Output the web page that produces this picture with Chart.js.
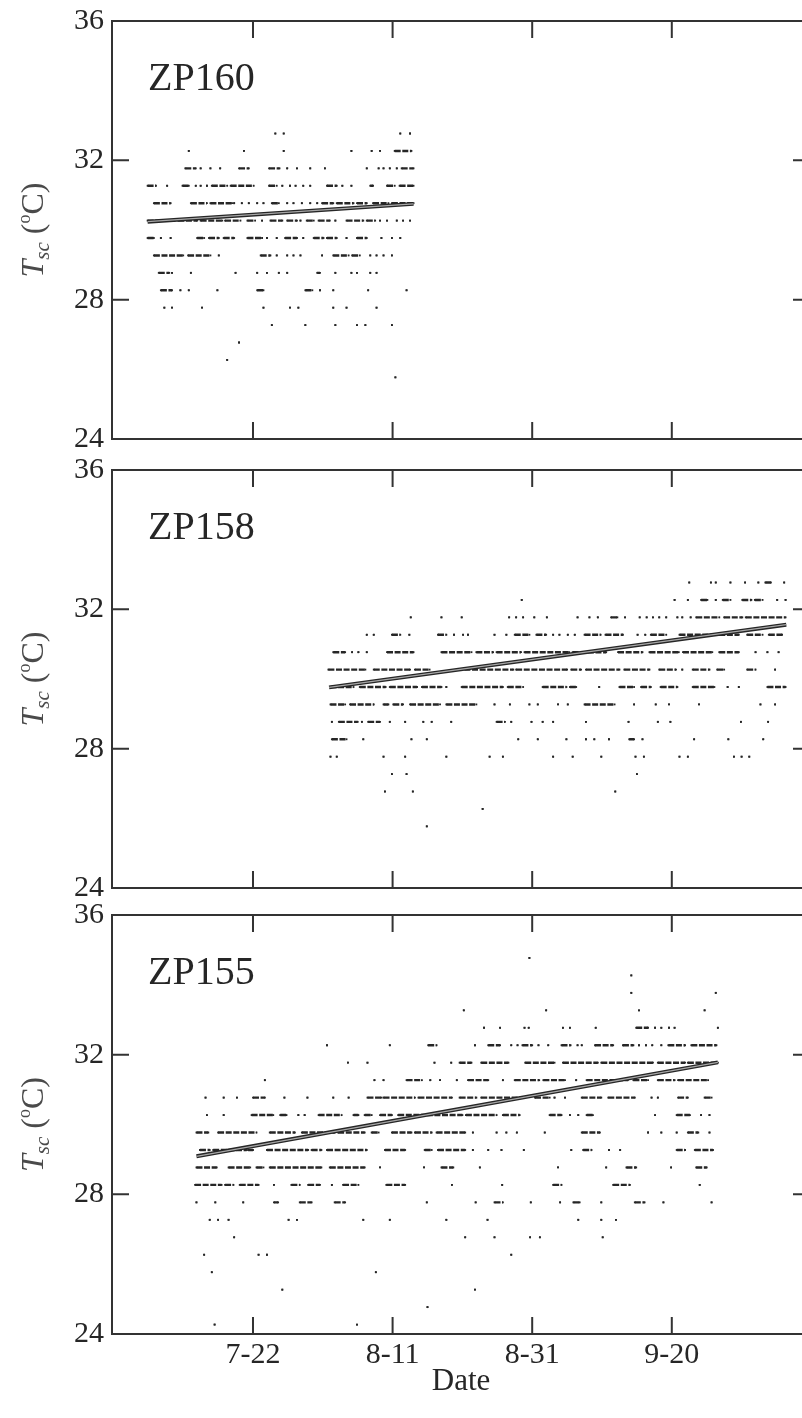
<!DOCTYPE html>
<html>
<head>
<meta charset="utf-8">
<script src="https://cdn.jsdelivr.net/npm/chart.js@4.4.1/dist/chart.umd.min.js"></script>
<style>
  html, body { margin: 0; background: #fff; }
  #wrap { position: relative; width: 802px; height: 1418px; overflow: hidden; }
  canvas { position: absolute; left: 0; }
</style>
</head>
<body>
<div id="wrap">
  <canvas id="c160" width="830" height="470" style="top:-5px"></canvas>
  <canvas id="c158" width="830" height="470" style="top:444px"></canvas>
  <canvas id="c155" width="830" height="514" style="top:889px"></canvas>
</div>
<script>
// x values are days after 1 July
const tickDays = [21, 41, 61, 81];
const tickLabels = ['7-22', '8-11', '8-31', '9-20'];
const yTicks = [24, 28, 32, 36];

// each row: logged temperature level, then readings (single day, or [from, to] run of consecutive readings)
const zp160Rows = [
  [32.77, 24.2, 25.4, 42.1, 43.5],
  [32.27, 11.8, 19.7, 25.4, 35.1, 38.0, 39.2, [41.3, 43.7]],
  [31.77, [11.3, 12.8], 13.5, 14.9, 16.3, [19.0, 20.4], [23.3, 24.8], 25.9, 27.3, 29.2, 31.3, 37.3, 39.0, 39.7, 40.6, 41.6, [42.3, 44.0]],
  [31.27, [5.9, 7.1], 8.7, [10.9, 11.8], 12.8, 13.5, 14.4, [15.1, 17.3], [17.8, 21.1], [23.3, 24.4], 25.2, 26.3, 27.1, 28.2, 29.2, [31.6, 33.0], 33.8, 35.1, [37.8, 38.2], [40.2, 41.3], [42.0, 44.0]],
  [30.77, [6.8, 9.2], [12.1, 14.4], [14.9, 18.0], 18.3, 19.4, 20.4, 21.6, 22.5, [23.7, 24.7], 25.9, 26.8, 28.0, 29.2, 30.2, [30.9, 32.5], [33.0, 35.4], [35.9, 37.3], [38.2, 40.4], [40.9, 44.0]],
  [30.27, [5.9, 9.8], [10.3, 13.0], [13.5, 16.6], [17.0, 19.2], [20.2, 21.3], 22.3, [23.5, 25.2], [25.9, 27.3], 27.8, [28.7, 29.7], [30.4, 32.0], 32.8, [34.4, 36.8], [37.3, 38.5], 39.2, 40.2, 41.6, 42.5, 43.5],
  [29.77, [5.9, 6.8], 7.8, 9.2, [13.0, 14.0], [14.7, 16.1], [16.8, 18.3], [20.2, 22.3], 23.0, 24.4, [25.6, 27.3], 28.2, [29.7, 31.1], [31.6, 33.0], 34.4, [35.9, 37.3], 39.4, 40.9, 42.1],
  [29.27, [6.8, 11.0], [11.7, 14.9], 16.1, [22.1, 23.5], 24.4, 25.9, 26.8, 27.8, 30.9, [32.5, 34.7], [35.2, 36.3], 37.8, 38.7, 39.7, 40.9],
  [28.77, [7.5, 9.0], 9.4, 12.1, 18.5, 21.6, 23.0, 24.7, 25.9, [30.2, 30.6], 32.8, 35.1, 35.9, 37.8, 38.7],
  [28.27, [7.8, 9.4], 10.6, 11.8, 15.9, [21.6, 22.5], [28.5, 29.5], 30.6, 32.5, 37.5, 43.0],
  [27.77, 8.3, 9.4, 13.7, 22.5, 26.3, 27.5, 32.5, 34.4, 38.7],
  [27.27, 23.7, 28.5, 32.8, 35.9, 37.1, 40.9],
  [26.77, 19.0],
  [26.27, 17.3],
  [25.77, 41.4]
];

const zp158Rows = [
  [32.77, 83.5, 86.6, 87.3, 89.4, 91.5, 93.4, [94.4, 95.2], 97.1],
  [32.27, 59.5, 81.4, 83.3, [85.2, 86.1], 87.3, [88.3, 89.4], [91.1, 92.4], [92.9, 94.0], 96.1, 97.3],
  [31.77, 43.6, 48.0, 50.9, 57.7, 58.7, 59.7, 61.3, 63.1, 67.5, 69.2, 70.4, [72.3, 73.2], 74.3, 76.4, 77.4, 78.3, 79.2, 80.2, 81.8, 82.5, 83.7, [84.5, 87.8], [88.5, 91.1], [91.6, 97.3]],
  [31.27, 37.3, 38.3, [40.9, 42.1], 43.4, [47.5, 48.7], 49.8, 51.1, 51.8, 55.6, 57.3, [58.5, 60.6], [61.6, 63.0], 64.0, 64.9, 66.1, 67.1, [68.5, 70.8], [71.5, 74.0], 76.1, 77.2, [78.0, 80.2], [82.1, 86.8], [87.8, 90.6], [91.8, 94.0], [94.9, 96.8]],
  [30.77, [32.5, 34.2], 35.2, 36.1, 37.3, [40.2, 44.0], [48.0, 52.3], [53.0, 55.4], [55.9, 59.4], [59.9, 66.3], [66.8, 71.6], [73.3, 76.8], [77.8, 82.0], [82.6, 86.8], [87.8, 90.6], 93.0, 94.7, 96.3],
  [30.27, [31.8, 37.1], [38.3, 43.5], [44.2, 46.3], [50.2, 58.3], [58.7, 66.0], [66.6, 68.0], [68.7, 73.5], [74.2, 77.8], [79.2, 81.6], 82.5, [84.0, 86.4], [87.5, 88.5], [91.8, 93.0], 95.8],
  [29.77, [32.1, 35.4], [36.3, 40.0], [40.6, 44.5], [45.2, 48.0], 48.7, [50.9, 56.8], [57.5, 59.7], [62.5, 65.9], [66.4, 67.3], 70.6, [73.5, 75.6], [76.6, 78.0], [79.4, 81.8], [84.0, 87.1], 89.0, 90.6, [94.7, 97.3]],
  [29.27, [32.1, 34.2], [34.9, 38.3], [39.7, 40.4], [41.1, 42.5], [43.5, 47.8], [48.7, 53.0], 55.6, 57.8, 60.6, 61.8, 64.7, 66.1, [68.5, 72.8], 75.6, 78.7, 80.6, 84.9, 93.7, 95.8],
  [28.77, 32.3, [33.3, 36.0], 36.6, [37.5, 39.2], 40.6, 42.8, 45.4, 46.6, 49.4, [55.9, 57.1], 58.0, 60.9, 62.5, 64.0, 68.7, 74.8, 79.0, 80.8, 90.9, 94.8],
  [28.27, [32.3, 34.4], 36.8, 43.7, 45.9, 59.0, 61.8, 65.9, 68.7, 69.9, 72.0, [74.9, 75.6], 76.8, 84.2, 89.1, 94.1],
  [27.77, 32.1, 33.0, 39.7, 42.8, 48.7, 54.9, 56.8, 64.0, 66.8, 70.9, 75.8, 77.0, 82.1, 83.3, 89.9, 91.0, 92.1],
  [27.27, 40.9, 43.0, 76.0],
  [26.77, 39.9, 43.9, 72.9],
  [26.27, 53.9],
  [25.77, 45.9]
];

const zp155Rows = [
  [34.77, 60.6],
  [34.27, 75.2],
  [33.77, 75.2, 87.3],
  [33.27, 51.2, 63.0, 76.3, 85.7],
  [32.77, 54.1, 56.4, 59.9, 60.5, 65.4, 66.4, 70.1, [75.9, 77.6], 78.6, 79.5, 80.6, 81.4, 87.6],
  [32.27, 31.6, 40.6, [46.1, 47.3], 52.8, [54.7, 56.4], 58.0, 58.9, [59.6, 61.0], 61.9, 63.3, [65.2, 66.5], 67.5, 68.1, [70.0, 72.6], [74.0, 75.5], 76.3, 77.3, 78.2, 79.5, [80.5, 82.9], [83.8, 87.4]],
  [31.77, 34.6, 37.4, 47.0, 49.4, [50.6, 52.3], [53.7, 57.6], [60.0, 64.2], [65.4, 70.4], [70.9, 78.3], [79.0, 82.9], [83.3, 87.6]],
  [31.27, 22.7, 38.4, 39.7, [43.0, 45.2], 46.4, 47.8, 50.2, [51.8, 54.7], 56.8, [58.5, 62.0], [62.6, 65.7], 67.3, [68.8, 74.7], [75.5, 77.6], [79.0, 81.4], [81.9, 86.2]],
  [30.77, 14.2, 16.8, 18.7, [21.0, 22.7], 25.5, 28.8, 32.5, 34.7, [37.4, 39.4], [39.7, 44.2], [44.7, 49.5], [50.6, 53.0], [53.7, 59.5], [61.4, 63.5], 64.2, 65.7, [68.1, 70.9], [71.9, 75.7], 78.1, 79.0, [81.9, 83.3], [85.7, 86.7]],
  [30.27, 14.4, 16.8, [20.8, 23.9], [24.9, 25.8], 27.5, 28.4, [30.4, 33.7], [35.4, 36.1], [37.0, 38.0], [39.2, 40.9], [41.8, 45.6], [45.9, 51.0], [51.5, 55.9], [56.8, 59.2], [63.5, 65.2], 66.4, 67.6, [68.8, 69.7], 78.6, [81.7, 83.6], 85.2, 86.4],
  [29.77, [12.9, 14.6], [16.0, 21.5], [23.4, 27.0], [28.0, 32.7], [33.2, 37.0], [38.0, 39.0], [40.9, 43.7], [44.2, 46.6], [47.3, 51.4], 52.5, 55.9, 57.3, 58.8, 62.8, [68.1, 70.7], 77.6, 79.5, 81.7, [83.3, 84.8], 86.4],
  [29.27, [13.4, 14.8], [15.3, 20.1], [20.3, 21.0], [23.0, 28.9], [29.4, 30.8], [31.6, 37.3], [39.9, 42.8], [45.6, 46.6], [47.5, 51.4], 52.5, 54.7, 56.6, 59.8, 66.6, [68.3, 69.5], 72.0, 73.6, [81.7, 82.9], [84.3, 86.9]],
  [28.77, [12.9, 15.8], [17.5, 20.6], [21.5, 22.5], [23.4, 30.8], [32.0, 37.0], 39.2, 45.5, [48.0, 49.7], 53.5, 64.7, 71.6, [74.5, 75.9], 80.9, [84.5, 86.0]],
  [28.27, [12.7, 16.5], [17.0, 18.2], [19.1, 21.8], 24.0, [26.5, 27.7], [28.9, 30.6], 32.3, [33.9, 36.1], [40.1, 42.8], 49.5, 56.7, [64.0, 65.2], [72.6, 75.0], 85.0],
  [27.77, 12.9, 15.6, 19.6, [24.0, 24.6], [27.7, 29.4], [32.7, 34.2], 45.9, 52.9, [55.6, 56.8], 60.8, 65.0, [66.9, 67.8], 70.9, [75.7, 77.1], 79.8, 86.7],
  [27.27, 14.8, 16.0, 17.5, 26.1, 27.3, 36.8, 40.6, 48.7, 54.6, 67.6, 70.9, 73.0],
  [26.77, 18.3, 51.4, 55.6, 60.7, 62.1, 71.1],
  [26.27, 14.0, 21.8, 23.0, 58.0],
  [25.77, 15.1, 38.6],
  [25.27, 25.2, 52.8],
  [24.77, 46.0],
  [24.27, 15.5, 35.9]
];

// fitted trend, [day, temperature] at both ends
const zp160Trend = [[5.9, 30.24], [44.0, 30.75]];
const zp158Trend = [[31.9, 29.76], [97.4, 31.56]];
const zp155Trend = [[12.9, 29.09], [87.6, 31.78]];

const serif = '"Liberation Serif", "Times New Roman", serif';
const ink = '#262626';

function rowsToPoints(rows) {
  const pts = [];
  rows.forEach(row => {
    const level = row[0];
    row.slice(1).forEach(r => {
      const [a, b] = Array.isArray(r) ? r : [r, r];
      pts.push({x: a, y: level}, {x: b, y: level}, {x: NaN, y: NaN});
    });
  });
  return pts;
}

// box round the plot with inward ticks on every side
const framePlugin = {
  id: 'frame',
  afterDatasetsDraw(chart) {
    const {ctx, chartArea: a, scales: {x, y}} = chart;
    const len = 17;
    ctx.save();
    ctx.strokeStyle = '#333';
    ctx.lineWidth = 2;
    ctx.strokeRect(a.left, a.top, a.right - a.left, a.bottom - a.top);
    ctx.beginPath();
    tickDays.forEach(d => {
      const px = x.getPixelForValue(d);
      ctx.moveTo(px, a.bottom); ctx.lineTo(px, a.bottom - len);
      ctx.moveTo(px, a.top); ctx.lineTo(px, a.top + len);
    });
    yTicks.slice(1, -1).forEach(v => {
      const py = y.getPixelForValue(v);
      ctx.moveTo(a.left, py); ctx.lineTo(a.left + len, py);
      ctx.moveTo(a.right, py); ctx.lineTo(a.right - len, py);
    });
    ctx.stroke();
    ctx.restore();
  }
};

// station name and the T_sc (°C) axis title
function labelPlugin(name) {
  return {
    id: 'labels',
    afterDraw(chart) {
      const {ctx, chartArea: a} = chart;
      ctx.save();
      ctx.fillStyle = ink;
      ctx.font = '40px ' + serif;
      ctx.textBaseline = 'alphabetic';
      ctx.fillText(name, a.left + 36, a.top + 69);

      const parts = [
        {t: 'T', font: 'italic 32px ' + serif, dy: 0},
        {t: 'sc', font: 'italic 21px ' + serif, dy: 6},
        {t: ' (', font: '32px ' + serif, dy: 0},
        {t: 'o', font: '18px ' + serif, dy: -13},
        {t: 'C)', font: '32px ' + serif, dy: 0}
      ];
      let total = 0;
      parts.forEach(p => { ctx.font = p.font; p.w = ctx.measureText(p.t).width; total += p.w; });
      ctx.translate(43, (a.top + a.bottom) / 2);
      ctx.rotate(-Math.PI / 2);
      ctx.fillStyle = '#4a4a4a';
      let cx = -total / 2;
      parts.forEach(p => {
        ctx.font = p.font;
        ctx.fillText(p.t, cx, p.dy);
        cx += p.w;
      });
      ctx.restore();
    }
  };
}

function makePanel(id, rows, trend, name, showDates) {
  const trendPts = trend.map(([x, y]) => ({x, y}));
  const tickFont = {family: serif, size: 30};
  return new Chart(document.getElementById(id), {
    type: 'scatter',
    data: {
      datasets: [
        {
          data: rowsToPoints(rows),
          showLine: true,
          spanGaps: false,
          borderColor: ink,
          backgroundColor: ink,
          borderWidth: 2.4,
          borderDash: [6, 1.6],
          borderCapStyle: 'butt',
          pointRadius: 1.3,
          pointStyle: 'rect',
          pointBorderWidth: 0,
          order: 3
        },
        {data: trendPts, showLine: true, borderColor: '#262626', borderWidth: 4, pointRadius: 0, order: 2},
        {data: trendPts, showLine: true, borderColor: '#a8a8a8', borderWidth: 1.3, pointRadius: 0, order: 1}
      ]
    },
    options: {
      responsive: false,
      animation: false,
      events: [],
      layout: {padding: {top: 20, right: 20, bottom: showDates ? 0 : 20, left: 0}},
      plugins: {legend: {display: false}, tooltip: {enabled: false}},
      scales: {
        x: {
          type: 'linear',
          min: 0.8,
          max: 100.8,
          grid: {display: false, drawTicks: false},
          border: {display: false},
          afterBuildTicks: s => { s.ticks = tickDays.map(v => ({value: v})); },
          ticks: {
            display: showDates,
            autoSkip: false,
            maxRotation: 0,
            padding: 3,
            color: ink,
            font: tickFont,
            callback: v => tickLabels[tickDays.indexOf(v)]
          },
          title: {display: showDates, text: 'Date', color: ink, font: {family: serif, size: 31}, padding: {top: 0, bottom: 3}},
          afterFit: s => { s.height = showDates ? 69 : 0; }
        },
        y: {
          min: 24,
          max: 36,
          grid: {display: false, drawTicks: false},
          border: {display: false},
          afterBuildTicks: s => { s.ticks = yTicks.map(v => ({value: v})); },
          ticks: {padding: 8, color: ink, font: tickFont},
          afterFit: s => { s.width = 112; }
        }
      }
    },
    plugins: [framePlugin, labelPlugin(name)]
  });
}

makePanel('c160', zp160Rows, zp160Trend, 'ZP160', false);
makePanel('c158', zp158Rows, zp158Trend, 'ZP158', false);
makePanel('c155', zp155Rows, zp155Trend, 'ZP155', true);
</script>
</body>
</html>
